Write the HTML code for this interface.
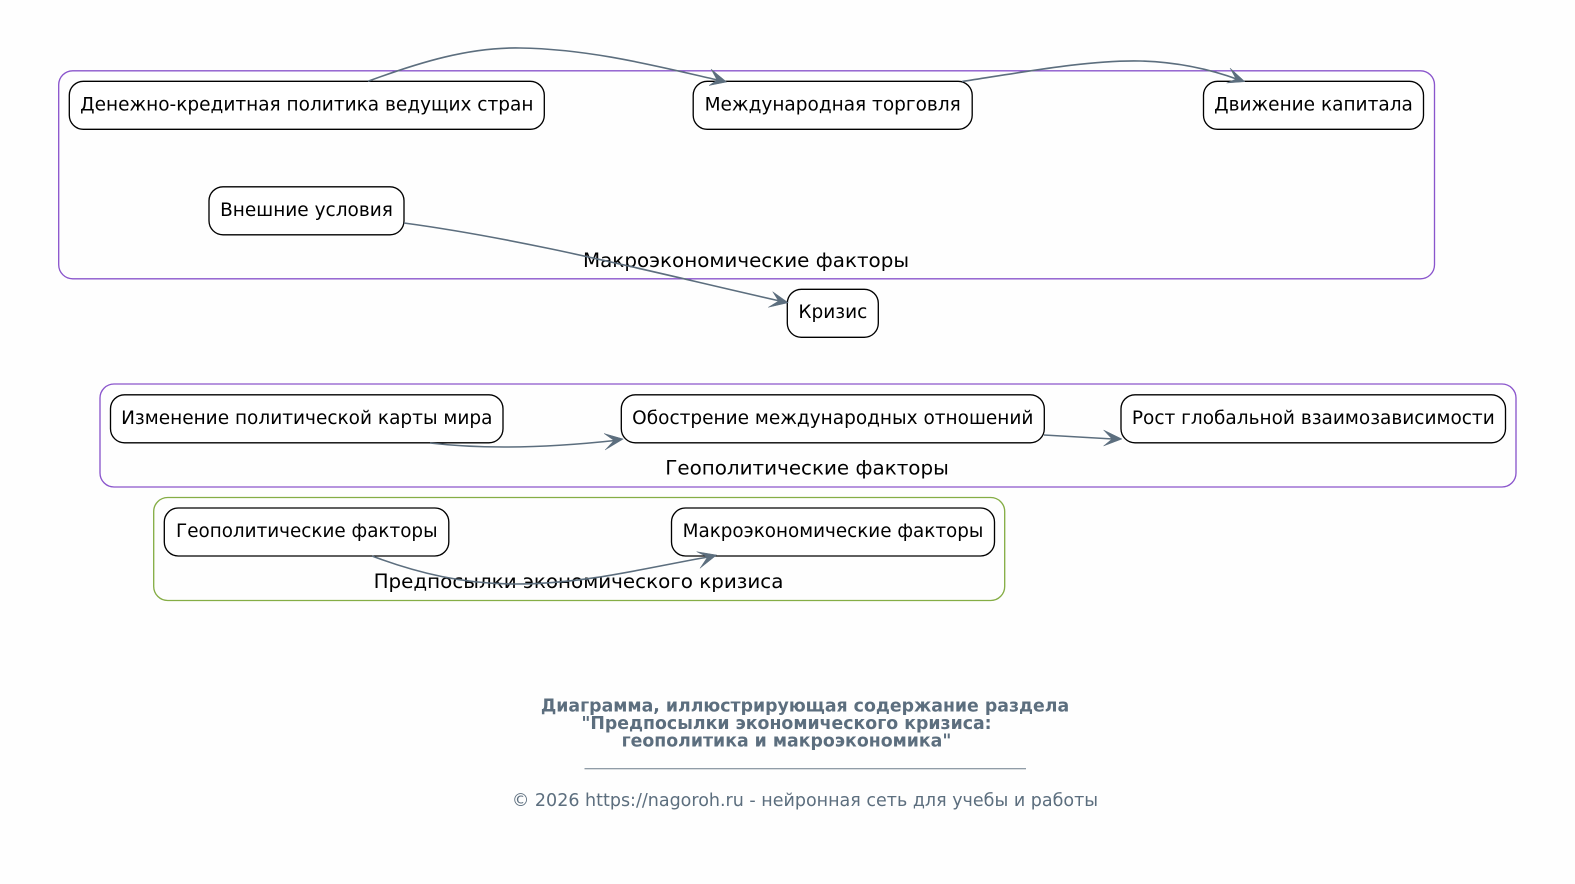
<!DOCTYPE html>
<html><head><meta charset="utf-8"><style>
html,body{margin:0;padding:0;background:#fefefe}
svg{display:block}
text{font-family:"DejaVu Sans","Liberation Sans",sans-serif}
.c{fill:none;stroke-width:1.33}
.n{fill:#fff;stroke:#000;stroke-width:1.33}
.t{font-size:18.5px;fill:#000;text-anchor:middle}
.l{font-size:19.9px;fill:#000;text-anchor:middle}
.e{fill:none;stroke:#5c6e7e;stroke-width:1.6}
.a{fill:#5c6e7e;stroke:#5c6e7e;stroke-width:.5}
.h{font-size:17.33px;font-weight:bold;fill:#5c6e7e;text-anchor:middle}
.f{font-size:17.5px;fill:#5c6e7e;text-anchor:middle}
</style></head><body>
<svg width="1575" height="884" viewBox="0 0 1575 884" xmlns="http://www.w3.org/2000/svg">
<rect class="c" x="58.7" y="70.8" width="1375.8" height="208" rx="14" stroke="#8a55cc"/>
<rect class="c" x="100" y="384" width="1416" height="103" rx="14" stroke="#8a55cc"/>
<rect class="c" x="153.7" y="497.5" width="851" height="103" rx="14" stroke="#85ad45"/>
<rect class="n" x="69.3" y="81.3" width="475" height="48" rx="14"/>
<rect class="n" x="693.2" y="81.3" width="279" height="48" rx="14"/>
<rect class="n" x="1203.5" y="81.3" width="220" height="48" rx="14"/>
<rect class="n" x="209" y="186.8" width="195" height="48" rx="14"/>
<rect class="n" x="787.3" y="289.3" width="91" height="48" rx="14"/>
<rect class="n" x="110.5" y="394.8" width="392.5" height="48" rx="14"/>
<rect class="n" x="621.3" y="394.8" width="423" height="48" rx="14"/>
<rect class="n" x="1121" y="394.8" width="384.5" height="48" rx="14"/>
<rect class="n" x="164.3" y="508" width="284.5" height="48" rx="14"/>
<rect class="n" x="671.5" y="508" width="323" height="48" rx="14"/>
<text class="t" x="306.8" y="110.5">Денежно-кредитная политика ведущих стран</text>
<text class="t" x="832.7" y="110.5">Международная торговля</text>
<text class="t" x="1313.5" y="110.5">Движение капитала</text>
<text class="t" x="306.5" y="216">Внешние условия</text>
<text class="t" x="832.8" y="318">Кризис</text>
<text class="t" x="306.8" y="424">Изменение политической карты мира</text>
<text class="t" x="832.8" y="424">Обострение международных отношений</text>
<text class="t" x="1313.3" y="424">Рост глобальной взаимозависимости</text>
<text class="t" x="306.8" y="537" style="font-size:18.35px">Геополитические факторы</text>
<text class="t" x="833" y="537" style="font-size:18.35px">Макроэкономические факторы</text>
<text class="l" x="746" y="267">Макроэкономические факторы</text>
<text class="l" x="807" y="474.5">Геополитические факторы</text>
<text class="l" x="578.5" y="588">Предпосылки экономического кризиса</text>
<path class="e" d="M368 81.3C420 62 470 47 520 48C592 49 660 67 720 80.5"/>
<path class="a" d="M726.7 82L709 85.5L717 80L711 69Z"/>
<path class="e" d="M962 81.5C1030 71 1090 60 1140 61C1178 62 1212 70 1238 79.5"/>
<path class="a" d="M1245 81.7L1226.7 83L1236 79L1230 68Z"/>
<path class="e" d="M404 223C530 240 660 274 780 301"/>
<path class="a" d="M788.3 302.7L768.3 307.3L778.5 301L772.7 291.7Z"/>
<path class="e" d="M430 443C490 450 555 447 615 440.5"/>
<path class="a" d="M623.3 439L605 450L614 440.5L604 433.5Z"/>
<path class="e" d="M1044 435L1113 439"/>
<path class="a" d="M1122 439L1103.5 446L1112 439L1103.5 430Z"/>
<path class="e" d="M372 556C420 574 465 584 515 584C585 584 645 568 708 557"/>
<path class="a" d="M716.7 555L700 568.3L707.5 557L696.7 551.7Z"/>
<text class="h" x="805" y="711.5">Диаграмма, иллюстрирующая содержание раздела</text>
<text class="h" x="786.5" y="729">"Предпосылки экономического кризиса:</text>
<text class="h" x="786.5" y="746.5">геополитика и макроэкономика"</text>
<line x1="584.5" y1="768.8" x2="1026" y2="768.8" stroke="#6c7c8a" stroke-width="1"/>
<text class="f" x="805" y="806">© 2026 https://nagoroh.ru - нейронная сеть для учебы и работы</text>
</svg>
</body></html>
